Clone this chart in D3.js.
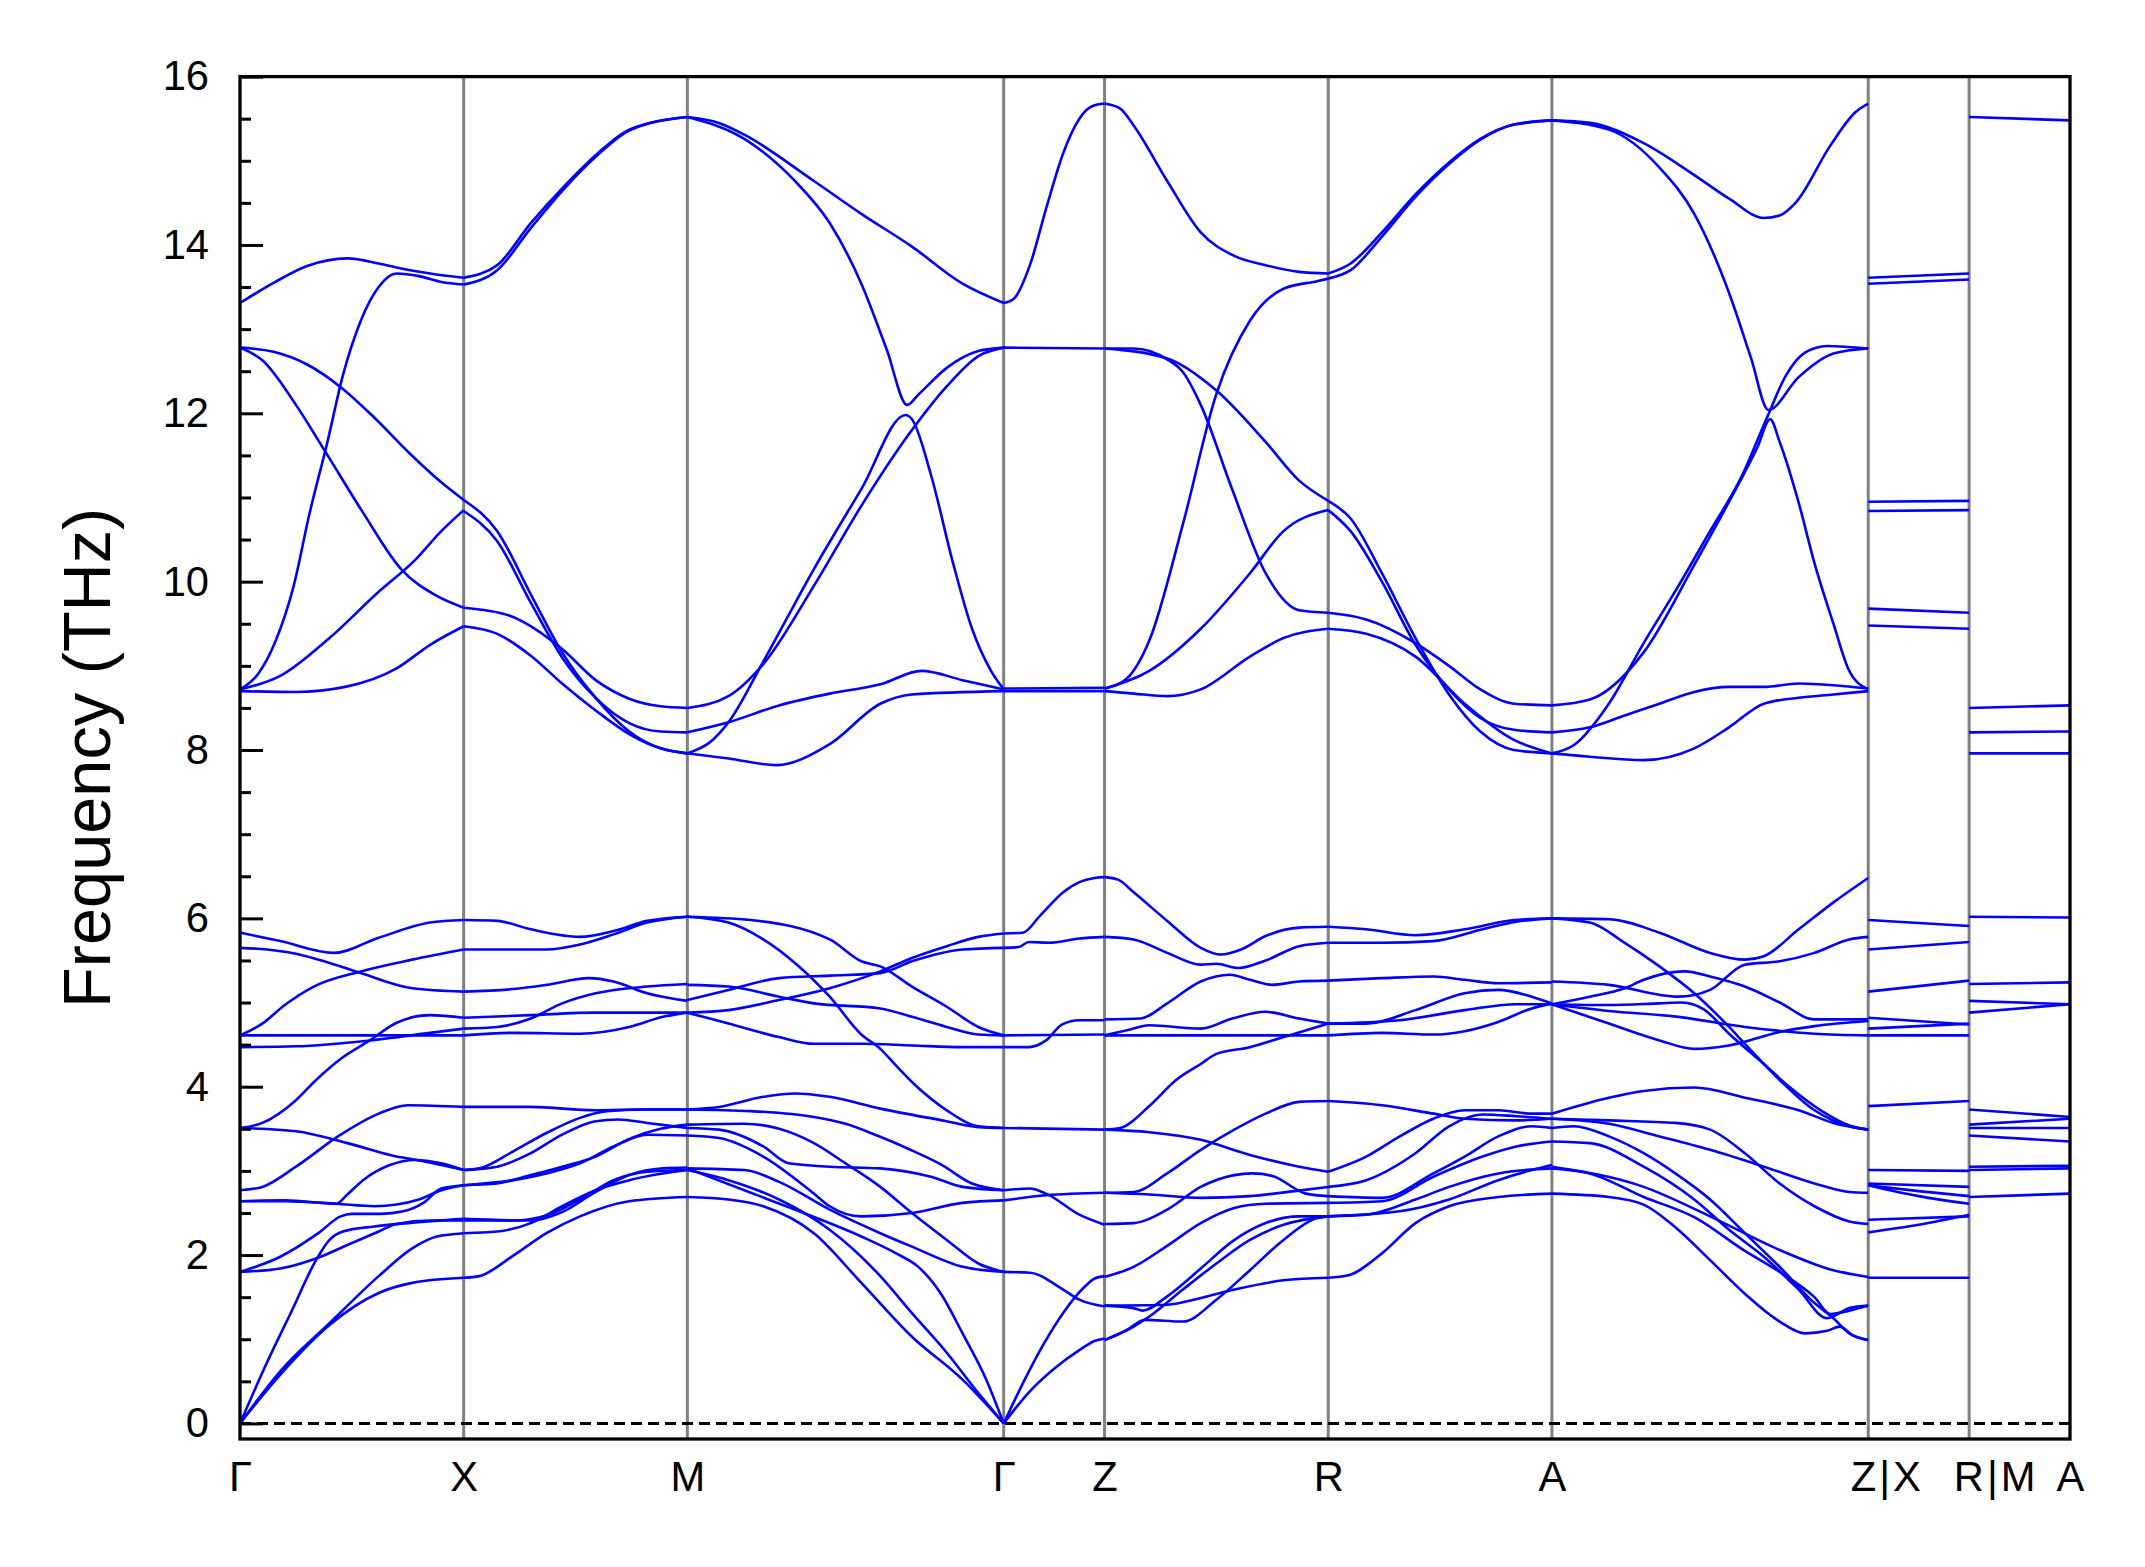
<!DOCTYPE html>
<html>
<head>
<meta charset="utf-8">
<script src="https://cdn.jsdelivr.net/npm/d3@7"></script>
<style>
  html, body { margin: 0; padding: 0; background: #fff; }
  svg { display: block; }
  text { font-family: "Liberation Sans", Arial, sans-serif; fill: #000; }
</style>
</head>
<body>
<div id="chart"></div>
<script>
// high-symmetry points and k-path segment lengths
const tickLabels = ["Γ", "X", "M", "Γ", "Z", "R", "A", "Z|X", "R|M", "A"];
const segLengths = [0.5, 0.5, 0.7071, 0.2255, 0.5, 0.5, 0.7071, 0.2255, 0.2255];
const yTicks = [0, 2, 4, 6, 8, 10, 12, 14, 16];

// bands per segment: [fraction along segment, frequency THz]
const gammaX = [
  [[0,13.31],[0.15,13.55],[0.3,13.75],[0.48,13.84],[0.62,13.78],[0.72,13.72],[0.85,13.66],[1,13.61]],
  [[0,8.72],[0.08,8.9],[0.16,9.3],[0.24,9.95],[0.31,10.8],[0.39,11.65],[0.46,12.45],[0.54,13.1],[0.62,13.5],[0.7,13.66],[0.8,13.63],[0.9,13.56],[1,13.53]],
  [[0,12.78],[0.15,12.73],[0.3,12.58],[0.46,12.29],[0.6,11.95],[0.76,11.52],[0.9,11.18],[1,10.97]],
  [[0,12.78],[0.1,12.63],[0.25,12.1],[0.38,11.55],[0.55,10.82],[0.72,10.15],[0.88,9.83],[1,9.69]],
  [[0,8.72],[0.18,8.88],[0.4,9.33],[0.62,9.88],[0.78,10.25],[0.9,10.6],[1,10.85]],
  [[0,8.70],[0.25,8.69],[0.47,8.75],[0.7,8.97],[0.85,9.25],[1,9.47]],
  [[0,5.83],[0.18,5.73],[0.42,5.59],[0.62,5.77],[0.85,5.95],[1,5.98]],
  [[0,5.65],[0.12,5.63],[0.25,5.58],[0.4,5.47],[0.54,5.35],[0.77,5.17],[1,5.13]],
  [[0,4.61],[0.1,4.75],[0.2,4.97],[0.33,5.19],[0.54,5.37],[0.77,5.51],[1,5.63]],
  [[0,4.47],[0.25,4.48],[0.58,4.55],[0.85,4.64],[1,4.69]],
  [[0,4.61],[0.5,4.61],[1,4.61]],
  [[0,3.51],[0.1,3.57],[0.25,3.84],[0.34,4.08],[0.46,4.35],[0.58,4.55],[0.7,4.76],[0.85,4.85],[1,4.82]],
  [[0,3.51],[0.25,3.47],[0.48,3.33],[0.7,3.17],[0.79,3.13],[1,3.01]],
  [[0,2.77],[0.1,2.81],[0.25,3.05],[0.45,3.43],[0.62,3.68],[0.75,3.78],[1,3.76]],
  [[0,2.64],[0.2,2.65],[0.43,2.61],[0.48,2.72],[0.55,2.89],[0.67,3.07],[0.78,3.13],[0.9,3.09],[1,3.01]],
  [[0,2.64],[0.2,2.64],[0.43,2.61],[0.6,2.58],[0.7,2.6],[0.8,2.66],[0.9,2.77],[1,2.83]],
  [[0,1.80],[0.18,1.98],[0.35,2.26],[0.45,2.46],[0.5,2.49],[0.63,2.49],[0.73,2.52],[0.82,2.62],[0.9,2.79],[1,2.83]],
  [[0,1.80],[0.18,1.84],[0.36,1.98],[0.48,2.12],[0.62,2.28],[0.7,2.37],[0.85,2.41],[1,2.41]],
  [[0,0],[0.12,0.72],[0.23,1.33],[0.34,1.94],[0.4,2.18],[0.46,2.28],[0.6,2.34],[0.75,2.38],[1,2.43]],
  [[0,0],[0.18,0.62],[0.4,1.19],[0.62,1.75],[0.77,2.08],[0.88,2.22],[1,2.26]],
  [[0,0],[0.18,0.58],[0.4,1.17],[0.62,1.55],[0.77,1.67],[1,1.73]]
];

const xM = [
  [[0,13.61],[0.15,13.76],[0.3,14.26],[0.45,14.7],[0.6,15.09],[0.74,15.37],[1,15.52]],
  [[0,13.53],[0.15,13.7],[0.3,14.2],[0.45,14.67],[0.6,15.07],[0.74,15.36],[1,15.52]],
  [[0,10.97],[0.15,10.6],[0.3,9.85],[0.44,9.16],[0.59,8.62],[0.74,8.22],[0.88,8.02],[1,7.96]],
  [[0,10.84],[0.15,10.48],[0.3,9.75],[0.44,9.1],[0.59,8.62],[0.74,8.32],[0.88,8.22],[1,8.21]],
  [[0,9.69],[0.2,9.6],[0.44,9.2],[0.59,8.83],[0.74,8.61],[0.88,8.52],[1,8.50]],
  [[0,9.47],[0.15,9.38],[0.3,9.12],[0.44,8.79],[0.59,8.47],[0.74,8.19],[0.88,8.02],[1,7.96]],
  [[0,5.98],[0.15,5.97],[0.3,5.87],[0.52,5.78],[0.67,5.85],[0.82,5.97],[1,6.02]],
  [[0,5.63],[0.22,5.63],[0.37,5.63],[0.52,5.69],[0.67,5.81],[0.82,5.95],[1,6.02]],
  [[0,5.13],[0.22,5.16],[0.37,5.21],[0.56,5.29],[0.67,5.25],[0.82,5.11],[1,5.02]],
  [[0,4.82],[0.3,4.85],[0.59,4.88],[1,4.88]],
  [[0,4.69],[0.15,4.71],[0.3,4.81],[0.44,4.99],[0.59,5.11],[0.82,5.19],[1,5.22]],
  [[0,4.61],[0.22,4.64],[0.52,4.63],[0.74,4.71],[0.89,4.83],[1,4.88]],
  [[0,3.76],[0.3,3.76],[0.59,3.72],[0.8,3.73],[1,3.73]],
  [[0,3.01],[0.07,3.03],[0.22,3.23],[0.37,3.45],[0.52,3.63],[0.64,3.71],[0.8,3.73],[1,3.73]],
  [[0,3.01],[0.15,3.05],[0.3,3.21],[0.44,3.43],[0.59,3.59],[0.69,3.61],[0.82,3.57],[1,3.51]],
  [[0,2.83],[0.15,2.85],[0.3,2.95],[0.44,3.05],[0.59,3.17],[0.74,3.38],[0.88,3.5],[1,3.55]],
  [[0,2.83],[0.22,2.89],[0.37,2.97],[0.52,3.09],[0.67,3.29],[0.82,3.43],[1,3.42]],
  [[0,2.43],[0.3,2.41],[0.44,2.51],[0.59,2.75],[0.74,2.95],[0.89,3.03],[1,3.04]],
  [[0,2.41],[0.22,2.41],[0.37,2.47],[0.52,2.66],[0.67,2.89],[0.82,2.99],[1,3.01]],
  [[0,2.26],[0.15,2.28],[0.3,2.38],[0.44,2.58],[0.59,2.77],[0.74,2.89],[1,3.01]],
  [[0,1.73],[0.07,1.75],[0.22,1.99],[0.37,2.26],[0.52,2.46],[0.74,2.64],[1,2.69]]
];

const mGamma = [
  [[0,15.52],[0.1,15.45],[0.18,15.31],[0.4,14.76],[0.55,14.37],[0.71,13.98],[0.87,13.54],[1,13.31]],
  [[0,15.52],[0.18,15.26],[0.34,14.76],[0.45,14.26],[0.55,13.54],[0.63,12.76],[0.695,12.1],[0.73,12.22],[0.82,12.54],[0.92,12.74],[1,12.78]],
  [[0,7.96],[0.08,8.12],[0.13,8.33],[0.24,9.05],[0.4,10.15],[0.55,11.1],[0.69,11.98],[0.71,11.93],[0.77,11.27],[0.84,10.22],[0.9,9.44],[0.96,8.94],[1,8.72]],
  [[0,8.50],[0.13,8.64],[0.24,9.02],[0.4,9.95],[0.55,10.9],[0.7,11.75],[0.82,12.32],[0.92,12.68],[1,12.78]],
  [[0,8.21],[0.13,8.33],[0.29,8.53],[0.45,8.67],[0.61,8.78],[0.74,8.94],[0.87,8.83],[1,8.72]],
  [[0,7.96],[0.13,7.90],[0.28,7.82],[0.45,8.07],[0.61,8.55],[0.71,8.66],[1,8.70]],
  [[0,6.02],[0.2,5.98],[0.45,5.75],[0.55,5.49],[0.61,5.43],[0.71,5.19],[0.82,4.95],[0.92,4.71],[1,4.61]],
  [[0,6.02],[0.13,5.95],[0.24,5.75],[0.34,5.47],[0.45,5.07],[0.55,4.62],[0.61,4.45],[0.66,4.25],[0.72,4.02],[0.82,3.72],[0.92,3.53],[1,3.51]],
  [[0,5.21],[0.13,5.19],[0.29,5.07],[0.4,4.99],[0.61,4.93],[0.71,4.83],[0.82,4.71],[0.92,4.62],[1,4.61]],
  [[0,5.03],[0.13,5.15],[0.29,5.29],[0.45,5.32],[0.61,5.35],[0.71,5.49],[0.87,5.63],[1,5.65]],
  [[0,4.88],[0.13,4.91],[0.29,5.03],[0.45,5.17],[0.61,5.37],[0.71,5.53],[0.82,5.67],[0.92,5.78],[1,5.82]],
  [[0,4.88],[0.13,4.75],[0.29,4.59],[0.4,4.51],[0.55,4.51],[0.71,4.49],[0.87,4.47],[1,4.47]],
  [[0,3.73],[0.1,3.76],[0.24,3.88],[0.34,3.92],[0.45,3.88],[0.61,3.74],[0.82,3.59],[0.92,3.52],[1,3.51]],
  [[0,3.73],[0.2,3.71],[0.4,3.64],[0.5,3.56],[0.6,3.42],[0.7,3.26],[0.8,3.08],[0.9,2.85],[1,2.77]],
  [[0,3.55],[0.18,3.56],[0.29,3.5],[0.4,3.33],[0.5,3.09],[0.61,2.81],[0.71,2.5],[0.82,2.18],[0.92,1.9],[1,1.80]],
  [[0,3.51],[0.1,3.49],[0.24,3.29],[0.32,3.09],[0.45,3.05],[0.61,3.03],[0.77,2.93],[0.87,2.81],[1,2.77]],
  [[0,3.42],[0.1,3.39],[0.24,3.17],[0.4,2.73],[0.45,2.58],[0.55,2.46],[0.71,2.50],[0.87,2.62],[1,2.65]],
  [[0,3.03],[0.18,3.01],[0.29,2.87],[0.45,2.54],[0.61,2.26],[0.71,2.1],[0.87,1.86],[1,1.80]],
  [[0,3.03],[0.18,2.77],[0.34,2.54],[0.55,2.22],[0.66,2.02],[0.73,1.86],[0.8,1.55],[0.87,1.07],[0.945,0.52],[1,0]],
  [[0,3.01],[0.13,2.89],[0.29,2.66],[0.45,2.3],[0.61,1.75],[0.71,1.31],[0.82,0.84],[0.92,0.36],[1,0]],
  [[0,2.69],[0.13,2.66],[0.24,2.58],[0.4,2.26],[0.55,1.67],[0.71,1.03],[0.87,0.52],[1,0]]
];

const gammaZ = [
  [[0,13.31],[0.1,13.36],[0.26,13.76],[0.42,14.43],[0.59,15.09],[0.75,15.5],[0.88,15.65],[1,15.68]],
  [[0,12.78],[1,12.77]],
  [[0,8.73],[1,8.74]],
  [[0,8.70],[1,8.70]],
  [[0,5.82],[0.19,5.83],[0.36,6.03],[0.59,6.31],[0.75,6.43],[0.9,6.48],[1,6.49]],
  [[0,5.65],[0.15,5.66],[0.25,5.72],[0.45,5.71],[0.75,5.76],[1,5.78]],
  [[0,4.61],[1,4.62]],
  [[0,4.47],[0.25,4.47],[0.42,4.55],[0.58,4.74],[0.75,4.79],[1,4.79]],
  [[0,3.51],[1,3.49]],
  [[0,2.77],[0.26,2.79],[0.42,2.73],[0.75,2.48],[1,2.36]],
  [[0,2.65],[0.42,2.71],[1,2.74]],
  [[0,1.80],[0.26,1.79],[0.59,1.59],[0.75,1.47],[1,1.39]],
  [[0,0],[0.2,0.5],[0.4,0.95],[0.6,1.33],[0.8,1.62],[0.9,1.72],[1,1.75]],
  [[0,0],[0.25,0.37],[0.5,0.65],[0.75,0.87],[0.9,0.98],[1,1.01]]
];

const zR = [
  [[0,15.68],[0.07,15.62],[0.13,15.42],[0.28,14.76],[0.43,14.15],[0.58,13.87],[0.72,13.76],[0.87,13.68],[1,13.66]],
  [[0,8.73],[0.1,8.85],[0.2,9.3],[0.35,10.68],[0.5,12.23],[0.65,13.1],[0.8,13.48],[0.95,13.57],[1,13.6]],
  [[0,12.77],[0.13,12.77],[0.28,12.64],[0.35,12.49],[0.43,12.1],[0.57,11.1],[0.72,10.1],[0.87,9.66],[1,9.63]],
  [[0,12.77],[0.28,12.65],[0.5,12.27],[0.72,11.66],[0.87,11.2],[1,10.96]],
  [[0,8.73],[0.2,8.94],[0.43,9.44],[0.65,10.1],[0.8,10.6],[1,10.85]],
  [[0,8.70],[0.13,8.67],[0.28,8.64],[0.43,8.72],[0.65,9.11],[0.8,9.33],[1,9.44]],
  [[0,6.49],[0.06,6.46],[0.13,6.31],[0.28,5.97],[0.43,5.65],[0.52,5.57],[0.61,5.63],[0.72,5.79],[0.87,5.89],[1,5.90]],
  [[0,5.78],[0.13,5.75],[0.28,5.59],[0.43,5.45],[0.5,5.46],[0.6,5.41],[0.72,5.5],[0.87,5.67],[1,5.71]],
  [[0,4.8],[0.16,4.81],[0.28,4.99],[0.43,5.25],[0.56,5.33],[0.65,5.27],[0.75,5.21],[0.87,5.25],[1,5.26]],
  [[0,4.61],[0.1,4.67],[0.2,4.73],[0.43,4.69],[0.57,4.81],[0.72,4.89],[0.87,4.81],[1,4.75]],
  [[0,4.61],[1,4.61]],
  [[0,3.49],[0.07,3.51],[0.2,3.77],[0.32,4.08],[0.43,4.27],[0.5,4.39],[0.65,4.47],[0.8,4.59],[0.95,4.71],[1,4.75]],
  [[0,3.49],[0.2,3.46],[0.43,3.37],[0.65,3.19],[0.87,3.05],[1,2.99]],
  [[0,2.74],[0.13,2.75],[0.28,2.97],[0.43,3.25],[0.58,3.49],[0.72,3.68],[0.87,3.82],[1,3.83]],
  [[0,2.74],[0.2,2.72],[0.43,2.68],[0.65,2.7],[0.85,2.76],[1,2.81]],
  [[0,2.37],[0.13,2.38],[0.28,2.54],[0.43,2.81],[0.58,2.95],[0.66,2.97],[0.75,2.94],[0.9,2.73],[1,2.70]],
  [[0,1.74],[0.13,1.86],[0.28,2.11],[0.43,2.38],[0.58,2.56],[0.72,2.61],[1,2.62]],
  [[0,1.40],[0.28,1.41],[0.43,1.49],[0.58,1.59],[0.8,1.70],[1,1.73]],
  [[0,1.40],[0.13,1.37],[0.17,1.34],[0.28,1.51],[0.43,1.84],[0.57,2.16],[0.72,2.38],[0.87,2.46],[1,2.46]],
  [[0,0.99],[0.1,1.11],[0.18,1.23],[0.35,1.21],[0.5,1.47],[0.65,1.82],[0.8,2.18],[0.95,2.44],[1,2.46]],
  [[0,0.99],[0.13,1.15],[0.2,1.27],[0.35,1.59],[0.5,1.9],[0.65,2.18],[0.8,2.36],[1,2.46]]
];

const rA = [
  [[0,13.66],[0.1,13.78],[0.24,14.15],[0.39,14.6],[0.54,14.98],[0.68,15.26],[0.83,15.43],[1,15.48]],
  [[0,13.6],[0.1,13.7],[0.24,14.1],[0.39,14.57],[0.54,14.96],[0.68,15.25],[0.83,15.43],[1,15.48]],
  [[0,10.96],[0.1,10.75],[0.24,10.1],[0.39,9.33],[0.54,8.66],[0.68,8.22],[0.83,8.0],[1,7.96]],
  [[0,10.85],[0.1,10.6],[0.24,10.0],[0.39,9.25],[0.54,8.72],[0.68,8.38],[0.83,8.24],[1,8.21]],
  [[0,9.63],[0.17,9.55],[0.39,9.27],[0.54,9.0],[0.68,8.72],[0.83,8.55],[1,8.53]],
  [[0,9.44],[0.17,9.38],[0.39,9.11],[0.61,8.55],[0.83,8.12],[1,7.96]],
  [[0,5.90],[0.17,5.87],[0.39,5.80],[0.61,5.87],[0.83,5.98],[1,6.0]],
  [[0,5.71],[0.24,5.71],[0.47,5.73],[0.69,5.87],[0.84,5.96],[1,6.0]],
  [[0,5.26],[0.24,5.29],[0.47,5.31],[0.61,5.27],[0.76,5.23],[1,5.24]],
  [[0,4.75],[0.17,4.75],[0.39,4.91],[0.61,5.11],[0.76,5.15],[0.91,5.07],[1,4.99]],
  [[0,4.75],[0.32,4.79],[0.61,4.91],[0.84,4.98],[1,4.98]],
  [[0,4.61],[0.24,4.64],[0.47,4.62],[0.61,4.66],[0.76,4.77],[0.91,4.93],[1,4.99]],
  [[0,3.83],[0.24,3.78],[0.47,3.68],[0.61,3.62],[0.83,3.60],[1,3.62]],
  [[0,2.99],[0.17,3.17],[0.32,3.41],[0.47,3.62],[0.61,3.72],[0.76,3.72],[0.91,3.68],[1,3.68]],
  [[0,2.81],[0.17,2.89],[0.39,3.21],[0.54,3.53],[0.69,3.67],[0.84,3.65],[1,3.62]],
  [[0,2.70],[0.24,2.68],[0.47,2.97],[0.61,3.17],[0.76,3.41],[0.91,3.53],[1,3.51]],
  [[0,2.62],[0.24,2.64],[0.47,2.93],[0.69,3.17],[0.84,3.29],[1,3.35]],
  [[0,2.46],[0.17,2.48],[0.39,2.66],[0.54,2.81],[0.76,2.97],[1,3.03]],
  [[0,2.46],[0.32,2.52],[0.54,2.66],[0.76,2.89],[0.91,3.01],[1,3.07]],
  [[0,1.73],[0.09,1.76],[0.24,2.02],[0.39,2.38],[0.54,2.58],[0.76,2.69],[1,2.73]]
];

const aZ = [
  [[0,15.48],[0.12,15.45],[0.29,15.21],[0.45,14.83],[0.56,14.55],[0.67,14.32],[0.72,14.35],[0.77,14.5],[0.88,15.18],[0.96,15.58],[1,15.68]],
  [[0,15.48],[0.18,15.37],[0.34,14.92],[0.45,14.37],[0.56,13.43],[0.63,12.65],[0.684,12.04],[0.78,12.43],[0.89,12.71],[1,12.77]],
  [[0,8.53],[0.12,8.6],[0.29,9.16],[0.45,10.2],[0.56,10.95],[0.65,11.6],[0.69,11.93],[0.72,11.66],[0.78,10.94],[0.83,10.22],[0.89,9.5],[0.94,8.94],[1,8.72]],
  [[0,7.96],[0.07,8.06],[0.18,8.55],[0.29,9.27],[0.4,9.95],[0.5,10.6],[0.6,11.25],[0.68,11.95],[0.74,12.45],[0.8,12.72],[0.87,12.8],[1,12.77]],
  [[0,8.21],[0.12,8.27],[0.23,8.41],[0.34,8.55],[0.45,8.69],[0.56,8.75],[0.67,8.75],[0.78,8.79],[0.89,8.77],[1,8.73]],
  [[0,7.96],[0.12,7.92],[0.29,7.88],[0.45,8.02],[0.56,8.27],[0.67,8.55],[0.78,8.62],[0.89,8.66],[1,8.70]],
  [[0,6.0],[0.18,5.99],[0.34,5.83],[0.5,5.59],[0.61,5.51],[0.67,5.55],[0.78,5.87],[0.89,6.19],[1,6.48]],
  [[0,6.0],[0.12,5.95],[0.23,5.71],[0.34,5.43],[0.45,5.11],[0.56,4.71],[0.61,4.51],[0.72,4.08],[0.83,3.72],[0.94,3.53],[1,3.49]],
  [[0,5.25],[0.18,5.21],[0.4,5.07],[0.45,5.09],[0.5,5.15],[0.61,5.45],[0.72,5.49],[0.83,5.59],[0.94,5.75],[1,5.78]],
  [[0,4.98],[0.12,5.07],[0.23,5.17],[0.29,5.27],[0.42,5.37],[0.5,5.31],[0.61,5.19],[0.72,5.0],[0.83,4.8],[1,4.8]],
  [[0,4.98],[0.18,4.97],[0.34,4.99],[0.41,5.0],[0.48,4.92],[0.56,4.63],[0.67,4.27],[0.75,4.0],[0.85,3.72],[0.94,3.54],[1,3.49]],
  [[0,4.98],[0.18,4.75],[0.34,4.55],[0.45,4.45],[0.56,4.49],[0.72,4.65],[0.83,4.72],[1,4.78]],
  [[0,4.98],[0.18,4.9],[0.4,4.83],[0.61,4.71],[0.83,4.63],[1,4.61]],
  [[0,3.68],[0.18,3.87],[0.29,3.95],[0.45,3.99],[0.61,3.87],[0.78,3.72],[0.89,3.57],[1,3.49]],
  [[0,3.62],[0.18,3.60],[0.39,3.57],[0.5,3.49],[0.61,3.21],[0.72,2.85],[0.83,2.58],[0.94,2.40],[1,2.37]],
  [[0,3.62],[0.18,3.56],[0.34,3.41],[0.5,3.25],[0.67,3.05],[0.83,2.85],[0.94,2.75],[1,2.74]],
  [[0,3.51],[0.07,3.53],[0.18,3.41],[0.29,3.21],[0.39,2.97],[0.5,2.66],[0.61,2.26],[0.72,1.86],[0.83,1.43],[0.89,1.25],[0.94,1.07],[1,0.99]],
  [[0,3.35],[0.12,3.33],[0.29,3.05],[0.45,2.66],[0.56,2.3],[0.67,1.98],[0.78,1.59],[0.87,1.25],[0.94,1.37],[1,1.40]],
  [[0,3.05],[0.29,2.81],[0.5,2.46],[0.72,2.06],[0.88,1.83],[1,1.74]],
  [[0,3.03],[0.12,2.97],[0.29,2.69],[0.45,2.45],[0.61,2.05],[0.72,1.8],[0.83,1.5],[0.88,1.3],[0.94,1.34],[1,1.40]],
  [[0,2.73],[0.18,2.69],[0.29,2.6],[0.39,2.33],[0.5,1.94],[0.61,1.54],[0.72,1.21],[0.8,1.07],[0.87,1.1],[0.91,1.15],[0.95,1.05],[1,0.99]]
];

const xR = [
  [[0,13.61],[1,13.66]], [[0,13.54],[1,13.59]], [[0,10.95],[1,10.96]], [[0,10.84],[1,10.85]],
  [[0,9.68],[1,9.63]], [[0,9.48],[1,9.44]],
  [[0,5.98],[1,5.91]], [[0,5.63],[1,5.72]], [[0,5.13],[1,5.26]], [[0,4.82],[1,4.74]],
  [[0,4.69],[1,4.75]], [[0,4.61],[1,4.61]],
  [[0,3.77],[1,3.83]], [[0,3.01],[1,3.0]], [[0,2.85],[1,2.81]], [[0,2.83],[0.5,2.76],[1,2.70]],
  [[0,2.83],[0.5,2.7],[1,2.61]], [[0,2.42],[1,2.46]], [[0,2.27],[0.5,2.36],[1,2.48]], [[0,1.73],[1,1.73]]
];

const mA = [
  [[0,15.52],[1,15.48]], [[0,8.50],[1,8.53]], [[0,8.21],[1,8.22]], [[0,7.96],[1,7.96]],
  [[0,6.02],[1,6.01]], [[0,5.22],[1,5.24]], [[0,5.02],[1,4.98]], [[0,4.88],[1,4.98]],
  [[0,3.73],[1,3.64]], [[0,3.55],[1,3.62]], [[0,3.51],[1,3.51]], [[0,3.42],[1,3.35]],
  [[0,3.05],[1,3.06]], [[0,3.01],[1,3.03]], [[0,2.69],[1,2.73]]
];

const segments = [gammaX, xM, mGamma, gammaZ, zR, rA, aZ, xR, mA];

// layout
const W = 2145, H = 1567;
const plot = {left: 240, right: 2070, top: 76.6, bottom: 1439};

// cumulative distances at tick positions
const tickPos = [0];
segLengths.forEach((l, i) => tickPos.push(tickPos[i] + l));

const x = d3.scaleLinear().domain([0, tickPos[tickPos.length - 1]]).range([plot.left, plot.right]);
const y = d3.scaleLinear().domain([-0.185, 16]).range([plot.bottom, plot.top]);

const svg = d3.select("#chart").append("svg")
  .attr("width", W).attr("height", H);

// vertical lines at high-symmetry points
svg.append("g").selectAll("line")
  .data(tickPos.slice(1, -1))
  .join("line")
  .attr("x1", d => x(d)).attr("x2", d => x(d))
  .attr("y1", plot.top).attr("y2", plot.bottom)
  .attr("stroke", "#808080").attr("stroke-width", 3);

// zero line
svg.append("line")
  .attr("x1", plot.left).attr("x2", plot.right)
  .attr("y1", y(0)).attr("y2", y(0))
  .attr("stroke", "#000").attr("stroke-width", 3)
  .attr("stroke-dasharray", "11,6");

// bands
const bandG = svg.append("g");
segments.forEach((bands, i) => {
  const s0 = tickPos[i], len = segLengths[i];
  const line = d3.line()
    .x(d => x(s0 + d[0] * len))
    .y(d => y(d[1]))
    .curve(d3.curveMonotoneX);
  bandG.selectAll(null)
    .data(bands)
    .join("path")
    .attr("d", line)
    .attr("fill", "none")
    .attr("stroke", "#0000ff")
    .attr("stroke-width", 2.6);
});

// y axis: major + minor ticks pointing inward
const minorTicks = d3.range(0.5, 16, 0.5).filter(v => v % 2 !== 0);
const yAxisMinor = d3.axisLeft(y).tickValues(minorTicks).tickSize(-11).tickFormat("");
const yAxis = d3.axisLeft(y).tickValues(yTicks).tickSize(-23).tickPadding(31).tickFormat(d3.format("d"));

const gMinor = svg.append("g").attr("transform", `translate(${plot.left},0)`).call(yAxisMinor);
gMinor.select(".domain").remove();
gMinor.selectAll("line").attr("stroke", "#000").attr("stroke-width", 3);

const gy = svg.append("g").attr("transform", `translate(${plot.left},0)`).call(yAxis);
gy.select(".domain").remove();
gy.selectAll("line").attr("stroke", "#000").attr("stroke-width", 3);
gy.selectAll("text").attr("font-size", 41.7).attr("font-family", "Liberation Sans, Arial, sans-serif");

// x axis labels
const xAxis = d3.axisBottom(x).tickValues(tickPos).tickSize(0).tickPadding(22)
  .tickFormat((d, i) => tickLabels[i]);
const gx = svg.append("g").attr("transform", `translate(0,${plot.bottom})`).call(xAxis);
gx.select(".domain").remove();
gx.selectAll("text").attr("font-size", 41.7).attr("font-family", "Liberation Sans, Arial, sans-serif");

// composite labels (Z|X, R|M) sit a little to the right of their line
gx.selectAll("text").each(function (d, i) {
  const label = tickLabels[i];
  if (label.indexOf("|") < 0) return;
  const parts = label.split("|");
  const t = d3.select(this).text(null).attr("dx", i === 7 ? 17 : 25);
  t.append("tspan").text(parts[0]);
  t.append("tspan").attr("dx", 3).text("|");
  t.append("tspan").attr("dx", 3).text(parts[1]);
});

// frame
svg.append("rect")
  .attr("x", plot.left).attr("y", plot.top)
  .attr("width", plot.right - plot.left).attr("height", plot.bottom - plot.top)
  .attr("fill", "none").attr("stroke", "#000").attr("stroke-width", 3.3);

// y label
svg.append("text")
  .attr("transform", `translate(87,${(plot.top + plot.bottom) / 2}) rotate(-90)`)
  .attr("text-anchor", "middle")
  .attr("dominant-baseline", "central")
  .attr("font-size", 66.7)
  .text("Frequency (THz)");
</script>
</body>
</html>
